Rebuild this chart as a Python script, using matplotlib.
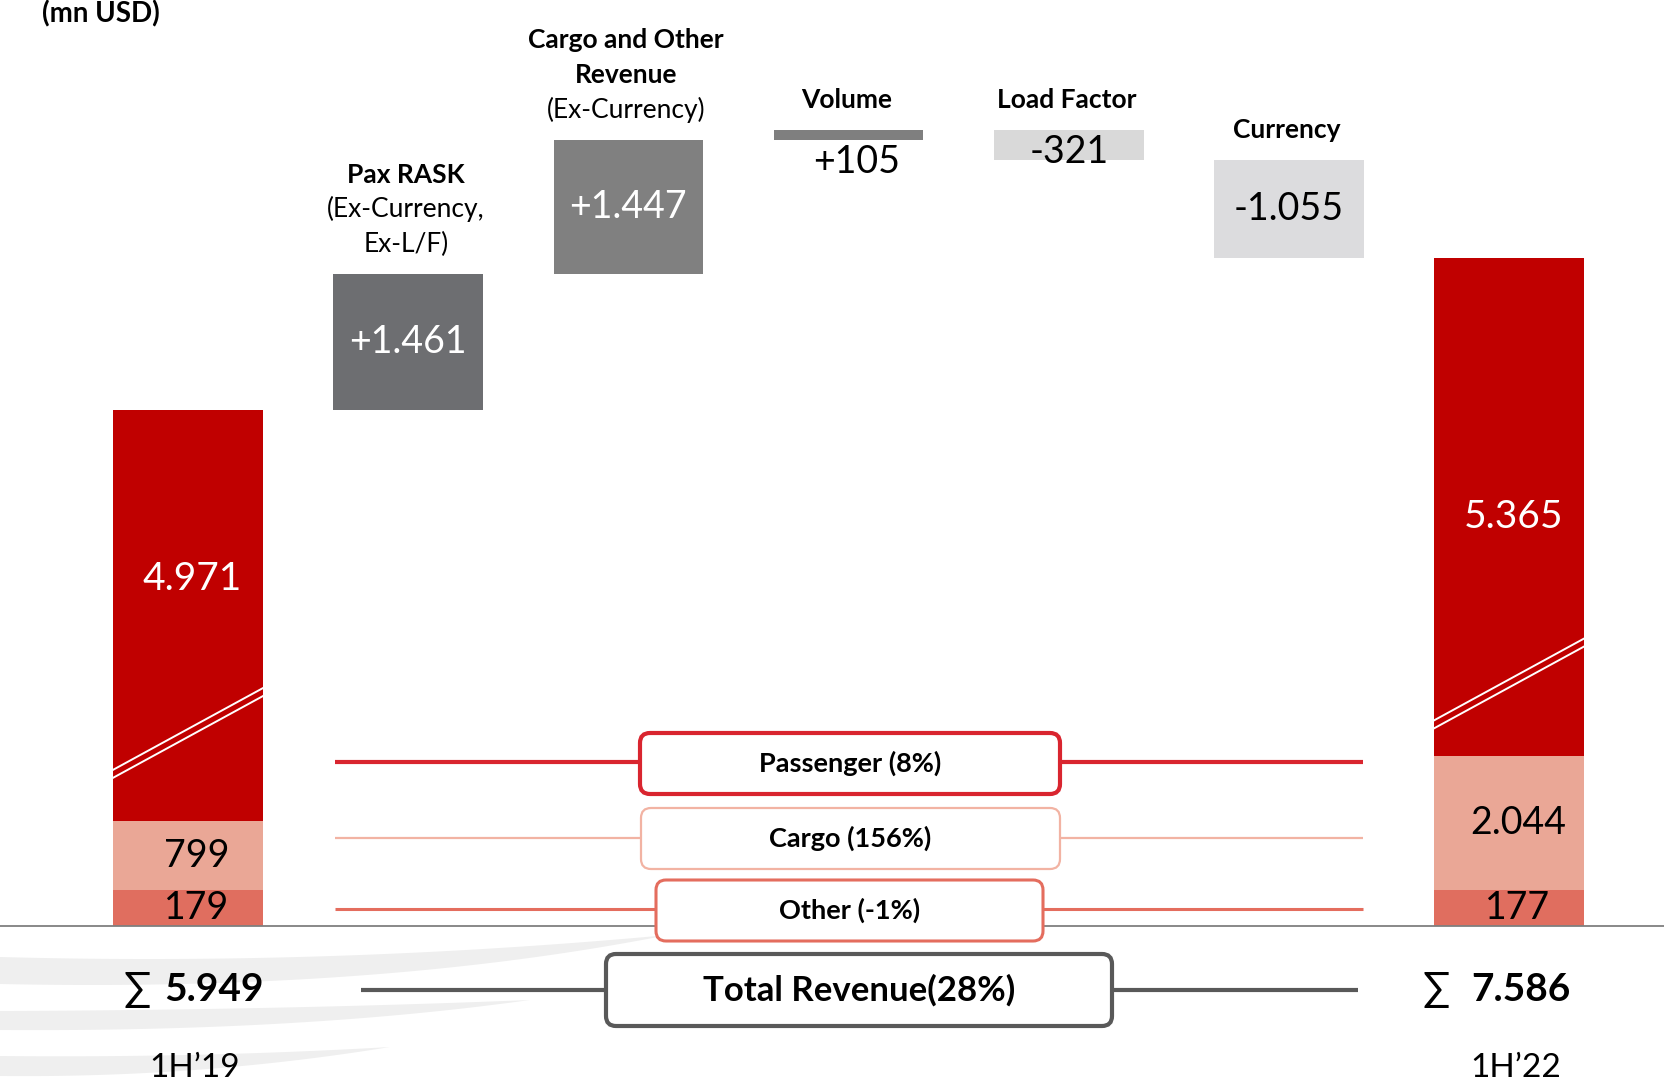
import matplotlib.pyplot as plt
from matplotlib.patches import FancyBboxPatch, Polygon
import numpy as np

plt.rcParams['font.family'] = ['Lato', 'DejaVu Sans']

W, H = 1665, 1081

# revenue (mn USD)
periods = ['1H\u201919', '1H\u201922']
passenger = [4971, 5365]
cargo = [799, 2044]
other = [179, 177]
totals = [5949, 7586]

# bridge 1H'19 -> 1H'22
bridge_values = [1461, 1447, 105, -321, -1055]
bridge_titles = [
    [('Pax RASK', 'bold'), ('(Ex-Currency,', 'normal'), ('Ex-L/F)', 'normal')],
    [('Cargo and Other', 'bold'), ('Revenue', 'bold'), ('(Ex-Currency)', 'normal')],
    [('Volume', 'bold')],
    [('Load Factor', 'bold')],
    [('Currency', 'bold')],
]
bridge_colors = ['#6D6E71', '#808080', '#7F7F7F', '#D9D9D9', '#DCDCDE']
bridge_text = ['white', 'white', 'black', 'black', 'black']

c_pax, c_cargo, c_other = '#C00000', '#EAA796', '#E06E5F'

BREAK = 388      # part of the passenger bar cut out by the axis break
seg = lambda v: 287 + 0.566 * v   # cargo / other segments drawn on a compressed scale

fig = plt.figure(figsize=(W / 100, H / 100), dpi=100)
fig.patch.set_facecolor('white')

# background swooshes
bg = fig.add_axes([0, 0, 1, 1])
bg.set_xlim(0, W)
bg.set_ylim(H, 0)
bg.axis('off')


def bez(p0, p1, p2, n=60):
    t = np.linspace(0, 1, n)[:, None]
    return (1 - t) ** 2 * np.array(p0) + 2 * (1 - t) * t * np.array(p1) + t ** 2 * np.array(p2)


swooshes = [
    [(0, 957), (330, 966), (668, 935), (380, 992), (0, 984)],
    [(0, 1011), (280, 1010), (530, 1000), (300, 1032), (0, 1030)],
    [(0, 1056), (200, 1058), (390, 1047), (200, 1078), (0, 1076)],
]
for a, c1, tip, c2, b in swooshes:
    pts = np.vstack([bez(a, c1, tip), bez(tip, c2, b)])
    bg.add_patch(Polygon(pts, closed=True, color='#EFEFEF', lw=0))

# main chart
ax = fig.add_axes([0, 0, 1, 1])
ax.axis('off')
ax.set_xlim(-0.854, 6.708)
ax.set_ylim(-1670, 9978)
bw = 0.68
fmt = lambda v: f'{v:,}'.replace(',', '.')
break_off = [470, 300]
sum_dx = [-0.11, -0.17]
sigma_gap = [0.06, 0.10]
pax_label_frac = [0.59, 0.48]

for k, x in enumerate([0, 6]):
    d_oth = seg(other[k])
    d_car = seg(cargo[k])
    top = totals[k] - BREAK
    ax.bar(x, d_oth, bw, bottom=0, color=c_other, zorder=2)
    ax.bar(x, d_car, bw, bottom=d_oth, color=c_cargo, zorder=2)
    ax.bar(x, top - d_oth - d_car, bw, bottom=d_oth + d_car, color=c_pax, zorder=2)
    # break marks
    y0 = d_oth + d_car + break_off[k]
    for dy in (0, 86):
        ax.plot([x - bw / 2, x + bw / 2], [y0 + dy, y0 + dy + 880], color='white', lw=1.4, zorder=3)
    ax.text(x + 0.04, d_oth / 2, fmt(other[k]), ha='center', va='center', fontsize=27, zorder=4)
    ax.text(x + 0.04, d_oth + d_car / 2, fmt(cargo[k]), ha='center', va='center', fontsize=27, zorder=4)
    pmid = d_oth + d_car + (top - d_oth - d_car) * pax_label_frac[k]
    ax.text(x + 0.02, pmid, fmt(passenger[k]), ha='center', va='center', fontsize=28, color='white', zorder=4)
    # sums and periods
    ax.text(x + sum_dx[k], -680, fmt(totals[k]), ha='left', va='center', fontsize=28, fontweight='bold')
    ax.text(x + sum_dx[k] - sigma_gap[k], -680, '\u2211', ha='right', va='center', fontsize=29)
    ax.text(x + 0.03, -1530, periods[k], ha='center', va='center', fontsize=24)

running = totals[0] - BREAK
for i, v in enumerate(bridge_values):
    x = i + 1
    bottom = running if v > 0 else running + v
    ax.bar(x, abs(v), bw, bottom=bottom, color=bridge_colors[i], zorder=2)
    lab = f'{v:+,}'.replace(',', '.')
    if abs(v) < 200:
        ax.annotate(lab, (x, bottom), xytext=(6, -3), textcoords='offset points',
                    ha='center', va='top', fontsize=27, color=bridge_text[i])
    else:
        dy = -5 if abs(v) < 500 else 0
        ax.annotate(lab, (x, bottom + abs(v) / 2), xytext=(0, dy), textcoords='offset points',
                    ha='center', va='center', fontsize=27, color=bridge_text[i], zorder=4)
    top = bottom + abs(v)
    for j, (line, wt) in enumerate(reversed(bridge_titles[i])):
        ax.annotate(line, (x - 0.01, top), xytext=(0, 16 + 25 * j), textcoords='offset points',
                    ha='center', va='baseline', fontsize=19, fontweight=wt)
    running += v

ax.axhline(0, color='#7F7F7F', lw=1.3, zorder=5)

# legend boxes
fg = fig.add_axes([0, 0, 1, 1])
fg.set_xlim(0, W)
fg.set_ylim(H, 0)
fg.axis('off')

growth = lambda a, b: round((b / a - 1) * 100)
legend_rows = [
    (f'Passenger ({growth(*passenger)}%)', '#D9252F', 3.0, 762, (640, 1060), 733, 794, 19.5),
    (f'Cargo ({growth(*cargo)}%)', '#F2B3A3', 1.6, 838, (641, 1060), 808, 869, 19.5),
    (f'Other ({growth(*other)}%)', '#E46D5E', 2.2, 909, (656, 1043), 880, 941, 19.5),
    (f'Total Revenue({growth(*totals)}%)', '#595959', 3.0, 990, (606, 1112), 954, 1026, 25),
]
for k, (txt, col, lw, ly, (x0, x1), y0, y1, fs) in enumerate(legend_rows):
    lx = (361, 1358) if k == 3 else (335, 1363)
    fg.plot(lx, [ly, ly], color=col, lw=lw, solid_capstyle='butt', zorder=1)
    fg.add_patch(FancyBboxPatch((x0, y0), x1 - x0, y1 - y0,
                                boxstyle='round,pad=0,rounding_size=10',
                                fc='white', ec=col, lw=lw, zorder=2))
    fg.text((x0 + x1) / 2, (y0 + y1) / 2, txt, ha='center', va='center',
            fontsize=fs, fontweight='bold', zorder=3)

fg.text(42, 14, '(mn USD)', ha='left', va='center', fontsize=20, fontweight='bold')

fig.savefig('out.png', dpi=100, facecolor='white')
